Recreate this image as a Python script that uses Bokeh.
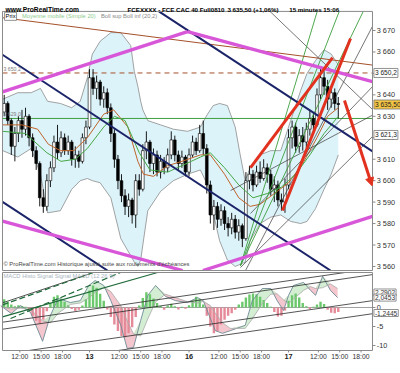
import numpy as np
from bokeh.plotting import figure
from bokeh.models import Range1d, Label, Arrow, NormalHead
from bokeh.layouts import column
from bokeh.embed import file_html
from bokeh.resources import INLINE
from bokeh.core.properties import value

FONT = "Liberation Sans"

# ---------------- data (x = trading hours, sessions chained: 12th=0, 13th=14, 16th=28, 17th=42) ----------------
day_offsets = [14, 28, 42]
day_labels = ["13", "16", "17"]
all_days = [0, 14, 28, 42]
tick_hours = [12, 15, 18]
tick_hour_labels = ["12:00", "15:00", "18:00"]
session_start_hour = 7.8

bar_step = 0.5
first_bar = 2.0
closes = [
    3636, 3628, 3616, 3622, 3628, 3624, 3630, 3620, 3614, 3608,
    3592, 3588, 3600, 3606, 3618, 3613, 3620, 3614, 3618, 3610,
    3612, 3609, 3620, 3625, 3648, 3643, 3646, 3638, 3641, 3634,
    3622, 3610, 3600, 3593, 3588, 3591, 3584, 3600, 3596, 3614,
    3618, 3608, 3612, 3604, 3609, 3606, 3612, 3619, 3612, 3608,
    3611, 3604, 3612, 3618, 3614, 3622, 3615, 3598, 3584, 3588,
    3582, 3586, 3580, 3578, 3582, 3576, 3579, 3573, 3600, 3603,
    3598, 3604, 3601, 3606, 3603, 3596, 3598, 3591, 3590, 3598,
    3620, 3625, 3616, 3621, 3618, 3624, 3629, 3626, 3640, 3648,
    3644, 3638, 3641, 3636, 3635.5]
highs = [
    3640, 3637, 3629, 3625, 3630, 3633, 3634, 3631, 3622, 3616,
    3609, 3596, 3603, 3609, 3621, 3626, 3623, 3622, 3621, 3619,
    3616, 3614, 3622, 3628, 3652, 3652, 3649, 3647, 3644, 3643,
    3636, 3624, 3612, 3603, 3596, 3594, 3592, 3603, 3603, 3617,
    3623, 3619, 3615, 3614, 3612, 3611, 3615, 3623, 3621, 3614,
    3614, 3612, 3615, 3621, 3620, 3626, 3628, 3617, 3600, 3591,
    3590, 3589, 3588, 3583, 3585, 3584, 3582, 3580, 3604, 3607,
    3605, 3607, 3609, 3610, 3608, 3605, 3602, 3600, 3594, 3601,
    3624, 3628, 3627, 3624, 3625, 3627, 3633, 3632, 3643, 3652,
    3651, 3647, 3644, 3643, 3639]
lows = [
    3630, 3626, 3612, 3609, 3618, 3620, 3621, 3616, 3611, 3605,
    3588, 3585, 3586, 3597, 3604, 3610, 3611, 3612, 3612, 3607,
    3606, 3606, 3608, 3617, 3624, 3640, 3638, 3635, 3634, 3631,
    3618, 3606, 3596, 3590, 3584, 3583, 3580, 3578, 3593, 3595,
    3610, 3604, 3603, 3602, 3601, 3603, 3604, 3610, 3609, 3605,
    3606, 3602, 3602, 3611, 3612, 3613, 3612, 3594, 3580, 3577,
    3578, 3579, 3577, 3574, 3575, 3573, 3572, 3569, 3572, 3596,
    3595, 3597, 3599, 3600, 3599, 3593, 3590, 3588, 3586, 3585,
    3596, 3615, 3613, 3613, 3614, 3615, 3621, 3623, 3625, 3638,
    3640, 3633, 3634, 3633, 3629]
first_open = 3632

macd_hist = [
    2.2, 1.5, 0.8, 0.3, 0.6, 0.4, 0.2, -0.8, -2.2, -3.5,
    -4.2, -3.2, -1.0, 1.2, 2.8, 3.2, 2.4, 1.5, 0.6, -0.4,
    -0.9, -0.6, 0.5, 2.2, 4.5, 5.8, 5.2, 3.6, 1.8, -0.5,
    -2.5, -4.5, -6.2, -7.5, -7.8, -6.8, -5.2, -2.5, 0.5, 2.5,
    4.0, 3.5, 2.4, 1.2, 0.4, -0.6, 0.5, 1.0, 0.3, -0.5,
    0.2, -0.3, 0.6, 1.8, 2.8, 2.2, 0.8, -2.2, -5.0, -6.8,
    -6.2, -4.5, -3.2, -2.2, -1.5, -0.6, 0.8, 1.5, 2.6, 3.4,
    3.7, 3.5, 2.8, 2.0, 1.2, 0.2, -1.2, -2.4, -2.2, -0.8,
    1.8, 3.2, 3.7, 2.6, 1.2, 0.3, -0.4, 0.2, 0.8, 1.5,
    0.9, -0.6, -1.4, -1.5, -1.2]

bb_t = [1.8, 3.9, 5.8, 7.1, 8.1, 9.9, 11.5, 12.7, 13.7, 14.4, 15.5, 17.0, 18.4, 19.8, 20.3,
        20.8, 21.2, 21.5, 22.2, 24.0, 25.8, 27.8, 29.6, 30.6, 31.4, 32.3, 33.4, 34.5, 35.2,
        35.9, 36.6, 38.0, 39.5, 40.9, 42.3, 43.7, 44.6, 45.8, 47.0, 48.0, 49.0]
bb_upper = [3638, 3641, 3641, 3643, 3637, 3636, 3634, 3637, 3648, 3659, 3665, 3669, 3669, 3663, 3651,
            3644, 3637, 3633, 3628, 3626, 3624, 3623, 3625, 3631, 3635, 3636, 3635, 3625, 3612,
            3600, 3606, 3612, 3614, 3614, 3628, 3642, 3650, 3656, 3661, 3659, 3654]
bb_lower = [3614, 3611, 3615, 3603, 3585, 3586, 3596, 3600, 3601, 3600, 3599, 3592, 3573, 3565, 3562,
            3560, 3563, 3570, 3586, 3595, 3600, 3603, 3605, 3598, 3585, 3572, 3563, 3560, 3561,
            3562, 3572, 3580, 3583, 3584, 3581, 3580, 3581, 3587, 3596, 3603, 3612]

ma_brown_t = [1.8, 4.5, 6.7, 8.2, 9.9, 11.8, 13.7, 16.0, 17.4, 19.4, 20.8, 21.6, 23.0, 25.0,
              27.0, 29.6, 31.0, 33.0, 35.0, 36.6, 38.0, 40.0, 42.0, 44.0, 46.0, 47.5, 49.0]
ma_brown = [3626, 3626, 3624, 3617, 3614, 3614, 3620, 3631, 3633, 3625, 3609, 3603, 3602, 3607,
            3609, 3612, 3612, 3603, 3592, 3588, 3589, 3594, 3599, 3608, 3620, 3630, 3634]
ma_green_t = [1.8, 5.0, 8.0, 10.0, 12.0, 13.7, 16.0, 17.5, 19.0, 21.0, 22.5, 25.0, 27.0, 29.6,
              31.0, 33.0, 35.0, 37.0, 39.0, 41.0, 43.0, 45.0, 47.0, 49.0]
ma_green = [3623, 3622, 3613, 3609, 3610, 3615, 3625, 3630, 3628, 3613, 3605, 3604, 3607, 3611,
            3613, 3606, 3598, 3592, 3594, 3597, 3603, 3612, 3622, 3630]

macd_t = [1.5, 3.0, 4.3, 5.7, 7.4, 8.5, 9.6, 11.3, 12.7, 13.9, 14.8, 16.0, 17.0, 18.4, 19.3,
          20.2, 21.2, 22.2, 23.3, 24.7, 26.1, 27.8, 29.2, 30.0, 31.0, 31.7, 32.7, 33.8, 35.9,
          36.9, 38.3, 39.5, 40.4, 41.3, 42.0, 42.7, 44.1, 45.1, 45.8, 46.8, 47.9, 48.9]
macd_line = [0.5, -1.6, 0.5, -1.3, -8.9, -2.1, 2.4, 1.3, 1.8, 5.8, 7.1, 5.8, 1.8, -4.7, -10.8,
             -10.5, -3.4, 3.2, 5.8, 2.9, 1.8, 1.3, 2.6, 1.8, -2.9, -6.1, -6.8, -6.1, -4.7,
             1.8, 5.0, 5.0, 1.8, -0.8, 3.2, 5.8, 6.6, 4.5, 3.2, 8.2, 4.5, 2.6]
macd_signal = [0.2, -0.4, -0.2, -0.5, -3.5, -4.0, -1.5, 0.8, 1.2, 2.5, 4.0, 5.2, 4.2, 0.5, -3.5,
               -7.0, -7.5, -3.0, 1.5, 3.5, 2.6, 1.5, 1.2, 1.6, 0.5, -1.5, -4.0, -5.5, -5.5,
               -3.0, 1.0, 3.5, 3.6, 2.0, 1.0, 2.2, 4.5, 5.5, 5.0, 5.2, 6.2, 5.0]

price_ticks = [3560, 3570, 3580, 3590, 3600, 3610, 3620, 3630, 3640, 3650, 3660, 3670]
price_tick_labels = ["3 560", "3 570", "3 580", "3 590", "3 600", "3 610", "3 620", "3 630",
                     "3 640", "3 650", "3 660", "3 670"]
macd_ticks = [-10, -5, 0]
macd_tick_labels = ["-10", "-5", "0"]

level_dashed = 3650.2
level_green = 3629.0
last_price = 3635.5
level_box3 = 3621.3
macd_boxes = [(3.95, "2,2902"), (2.6, "2,0453"), (-1.45, "-1,2445")]

# drawn trendlines: (t0, p0, t1, p1)
magenta_lines = [(1.48, 3641.1, 27.79, 3669.5), (27.79, 3669.5, 54.24, 3645.8),
                 (1.48, 3581.4, 28.63, 3556.7), (28.63, 3556.7, 54.24, 3583.8)]
navy_lines = [(23.57, 3679.3, 54.24, 3612.7), (1.48, 3659.3, 47.9, 3558.1),
              (1.48, 3590.7, 16.53, 3558.1)]
brown_lines = [(1.48, 3676.1, 54.24, 3653.7)]
red_lines = [(36.65, 3606.1, 48.19, 3657.4), (41.15, 3586.1, 50.72, 3666.3)]
red_arrow = (49.87, 3637.4, 53.75, 3597.6)
green_fan = [(35.24, 3560.4, 46.5, 3684), (35.24, 3560.4, 49.73, 3684), (35.24, 3560.4, 53.25, 3684)]
black_lines = [(37.78, 3684, 54.24, 3631.8), (54.24, 3674.7, 35.95, 3558.1),
               (33.84, 3595.4, 54.24, 3631.3), (35.24, 3559.5, 54.24, 3622.0),
               (54.24, 3645.3, 36.65, 3584.7)]
macd_black_lines = [(1.48, -3.95, 53.96, 10.3), (1.48, -5.8, 53.96, 8.7), (1.48, -12.4, 53.96, 1.84),
                    (1.48, -15.8, 53.96, -1.6), (1.48, 1.05, 14.14, 8.95)]
macd_green_solid = [(1.48, -2.6, 23.57, 9.2)]
macd_green_dashed = [(1.48, 0.5, 14.56, 9.2), (2.89, -2.9, 18.36, 9.2)]

# ---------------- geometry of the panels (data units) ----------------
T_MIN, T_MAX = 1.76, 53.81            # plotted time span (frame)
P_MIN, P_MAX = 3558.1, 3678.9         # price frame
M_MIN, M_MAX = -11.32, 9.21           # MACD frame
VIEW_T = (1.479, 57.75)               # whole canvas incl. right axis area
VIEW_P = (3557.65, 3683.99)
VIEW_M = (-17.37, 9.474)

MAGENTA = "#d856d8"
NAVY = "#1b2468"
RED = "#e2321f"
BROWN = "#a5502a"
AXIS = "#8a8a8a"

t = first_bar + bar_step * np.arange(len(closes))
c = np.array(closes, dtype=float)
o = np.array([first_open] + closes[:-1], dtype=float)
hi = np.maximum.reduce([np.array(highs, float), o, c])
lo = np.minimum.reduce([np.array(lows, float), o, c])
up = c >= o


def clip(line, xmin, xmax, ymin, ymax):
    x0, y0, x1, y1 = line
    dx, dy = x1 - x0, y1 - y0
    u0, u1 = 0.0, 1.0
    for pp, qq in ((-dx, x0 - xmin), (dx, xmax - x0), (-dy, y0 - ymin), (dy, ymax - y0)):
        if pp == 0:
            if qq < 0:
                return None
            continue
        r = qq / pp
        if pp < 0:
            u0 = max(u0, r)
        else:
            u1 = min(u1, r)
    if u0 > u1:
        return None
    return (x0 + u0 * dx, y0 + u0 * dy, x0 + u1 * dx, y0 + u1 * dy)


def seg(fig, lines, box, **kw):
    cl = [clip(l, *box) for l in lines]
    cl = [l for l in cl if l is not None]
    fig.segment([l[0] for l in cl], [l[1] for l in cl], [l[2] for l in cl], [l[3] for l in cl], **kw)


def frame_border(fig, ymin, ymax):
    fig.segment([T_MIN, T_MIN, T_MIN, T_MAX], [ymin, ymax, ymin, ymin],
                [T_MAX, T_MAX, T_MIN, T_MAX], [ymin, ymax, ymax, ymax], line_color=AXIS, line_width=1)


def txt(fig, x, y, text, size="6px", color="#333333", style="normal", align="left", baseline="middle",
        box=None):
    kw = {}
    if box is not None:
        kw = dict(background_fill_color=box, border_line_color="#777777", border_line_width=0.8, padding=1)
    fig.add_layout(Label(x=x, y=y, text=text, text_font=FONT, text_font_size=size, text_color=color,
                         text_font_style=style, text_align=align, text_baseline=baseline, **kw))


box_p = (T_MIN, T_MAX, P_MIN, P_MAX)
box_m = (T_MIN, T_MAX, M_MIN, M_MAX)
x_range = Range1d(*VIEW_T)

# ---------------- price panel ----------------
p = figure(width=400, height=271, min_border=0, x_range=x_range, y_range=Range1d(*VIEW_P),
           output_backend="svg", toolbar_location=None, x_axis_location=None, y_axis_location=None)
p.grid.visible = False
p.outline_line_color = None

p.varea(x=bb_t, y1=bb_lower, y2=bb_upper, fill_color="#ddf3fa")
p.line(bb_t, bb_upper, line_color="#8c8c8c", line_width=0.8)
p.line(bb_t, bb_lower, line_color="#8c8c8c", line_width=0.8)
p.segment([T_MIN], [level_green], [T_MAX], [level_green], line_color="#3f9f3f", line_width=1)
p.segment([T_MIN], [level_dashed], [T_MAX], [level_dashed], line_color=BROWN, line_width=1, line_dash="5 4")

p.segment(t, hi, t, lo, line_color="black", line_width=0.9)
p.vbar(x=t[up], width=0.38, top=c[up], bottom=o[up], fill_color="white", line_color="black", line_width=0.6)
p.vbar(x=t[~up], width=0.38, top=o[~up], bottom=c[~up], fill_color="black", line_color="black", line_width=0.6)

p.line(ma_brown_t, ma_brown, line_color="#c0642a", line_width=1)
p.line(ma_green_t, ma_green, line_color="#46a846", line_width=1)

seg(p, black_lines, box_p, line_color="#3a3a3a", line_width=0.7)
seg(p, green_fan, box_p, line_color="#3c9e3c", line_width=0.9)
seg(p, brown_lines, box_p, line_color=BROWN, line_width=1)
seg(p, navy_lines, box_p, line_color=NAVY, line_width=2)
seg(p, magenta_lines, box_p, line_color=MAGENTA, line_width=3.3)
seg(p, red_lines, box_p, line_color=RED, line_width=3)
p.add_layout(Arrow(end=NormalHead(size=8, fill_color=RED, line_color=RED),
                   x_start=red_arrow[0], y_start=red_arrow[1], x_end=red_arrow[2], y_end=red_arrow[3],
                   line_color=RED, line_width=3))

frame_border(p, P_MIN, P_MAX)
# right price axis
p.segment([T_MAX] * len(price_ticks), price_ticks, [T_MAX + 0.42] * len(price_ticks), price_ticks,
          line_color=AXIS, line_width=1)
p.text(x=[T_MAX + 0.6] * len(price_ticks), y=price_ticks, text=price_tick_labels, text_font=value(FONT),
       text_font_size="7.3px", text_color="#333333", text_baseline="middle")
for lvl, lab, fill in [(level_dashed, "3 650,2", "white"), (last_price, "3 635,50", "#f4c542"),
                       (level_box3, "3 621,3", "white")]:
    txt(p, T_MAX + 0.2, lvl, lab, size="6.6px", color="#222222", box=fill)

# titles and captions
txt(p, 2.18, 3679.9, "www.ProRealTime.com", size="6.7px", color="black", style="bold", baseline="alphabetic")
txt(p, 19.35, 3679.9, "FCEXXXX - FCE CAC 40 Full0810", size="6.2px", color="black", style="bold", baseline="alphabetic")
txt(p, 33.4, 3679.9, "3 635,50 (+1,06%)", size="6.2px", color="black", style="bold", baseline="alphabetic")
txt(p, 42.1, 3679.9, "15 minutes", size="6.2px", color="black", style="bold", baseline="alphabetic")
txt(p, 46.9, 3679.9, "15:06", size="6.2px", color="black", style="bold", baseline="alphabetic")
txt(p, 2.05, 3676.6, "Prix", size="5.8px", color="black", box="white")
txt(p, 4.5, 3676.6, "Moyenne mobile (Simple 20)", size="5.8px", color="#8ecb8e")
txt(p, 15.6, 3676.6, "Boll sup Boll inf (20,2)", size="5.8px", color="#8a8a8a")
txt(p, 1.9, level_dashed + 0.6, "3 650,2", size="5.2px", color="#7a7a7a", baseline="bottom")
txt(p, 1.9, level_green + 0.6, "3 629,0", size="5.2px", color="#7a7a7a", baseline="bottom")
txt(p, 1.9, 3561.0, "© ProRealTime.com Historique ajusté suite aux roulements d'échéances",
    size="5.8px", color="#444444")

# ---------------- MACD panel ----------------
q = figure(width=400, height=102, min_border=0, x_range=x_range, y_range=Range1d(*VIEW_M),
           output_backend="svg", toolbar_location=None, x_axis_location=None, y_axis_location=None)
q.grid.visible = False
q.outline_line_color = None

mt = np.array(macd_t)
ml = np.array(macd_line)
ms = np.array(macd_signal)
q.varea(x=mt, y1=ml, y2=np.where(ml < ms, ms, ml), fill_color="#f2bcc4", fill_alpha=0.85)
q.varea(x=mt, y1=ms, y2=np.where(ml > ms, ml, ms), fill_color="#cdebcd", fill_alpha=0.85)
q.segment([T_MIN], [0], [T_MAX], [0], line_color="#a0a0a0", line_width=1)
hv = np.array(macd_hist)
q.vbar(x=t[hv >= 0], width=0.34, top=hv[hv >= 0], bottom=0, fill_color="#6cc86c", line_color=None)
q.vbar(x=t[hv < 0], width=0.34, top=0, bottom=hv[hv < 0], fill_color="#e58a98", line_color=None)
q.line(mt, ml, line_color="#6f8a96", line_width=0.9)
q.line(mt, ms, line_color="#a9a9a9", line_width=0.8)
seg(q, macd_black_lines, box_m, line_color="#2a2a2a", line_width=0.8)
seg(q, macd_green_solid, box_m, line_color="#1f6b3a", line_width=1.2)
seg(q, macd_green_dashed, box_m, line_color="#1f6b3a", line_width=1.2, line_dash="6 3")

frame_border(q, M_MIN, M_MAX)
q.segment([T_MAX] * len(macd_ticks), macd_ticks, [T_MAX + 0.42] * len(macd_ticks), macd_ticks,
          line_color=AXIS, line_width=1)
q.text(x=[T_MAX + 0.6] * len(macd_ticks), y=macd_ticks, text=macd_tick_labels, text_font=value(FONT),
       text_font_size="7.3px", text_color="#333333", text_baseline="middle")
for v, lab in macd_boxes:
    txt(q, T_MAX + 0.2, v, lab, size="6.6px", color="#333333", box="white")
txt(q, 1.9, 8.2, "MACD Histo Signal Signal MACD (12 26 9)", size="5.8px", color="#a8b4c0")

# bottom time axis
time_ticks, time_labels = [], []
for d in all_days:
    for hh, lab in zip(tick_hours, tick_hour_labels):
        time_ticks.append(d + hh - session_start_hour)
        time_labels.append(lab)
all_ticks = time_ticks + day_offsets
q.segment(all_ticks, [M_MIN] * len(all_ticks), all_ticks, [M_MIN - 0.5] * len(all_ticks),
          line_color=AXIS, line_width=1)
q.text(x=time_ticks, y=[-12.9] * len(time_ticks), text=time_labels, text_font=value(FONT),
       text_font_size="6.8px", text_color="#333333", text_align="center", text_baseline="middle")
q.text(x=day_offsets, y=[-12.9] * len(day_offsets), text=day_labels, text_font=value(FONT),
       text_font_size="7.3px", text_font_style="bold", text_color="#222222", text_align="center",
       text_baseline="middle")

layout = column(p, q, spacing=0)
open("out.html", "w").write(file_html(layout, INLINE))
